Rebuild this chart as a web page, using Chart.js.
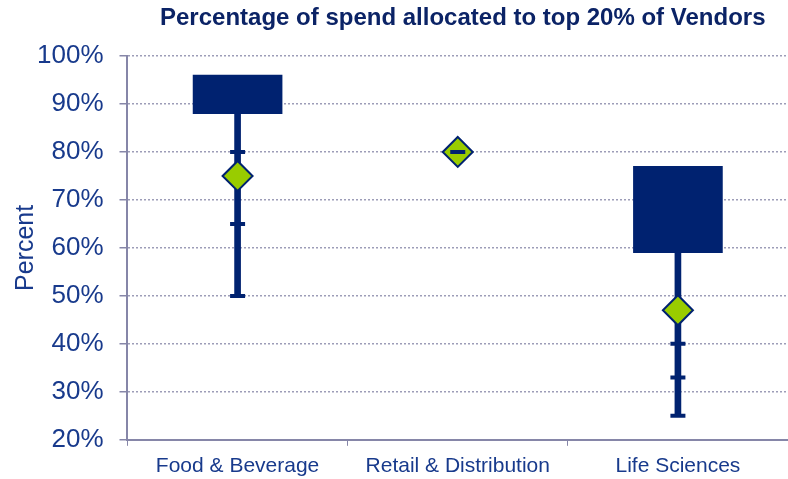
<!DOCTYPE html>
<html>
<head>
<meta charset="utf-8">
<script src="https://cdn.jsdelivr.net/npm/chart.js@4/dist/chart.umd.min.js"></script>
<style>
  html, body { margin: 0; background: #fff; }
</style>
</head>
<body>
<canvas id="chart" width="788" height="479"></canvas>
<script>
const categories = ['Food & Beverage', 'Retail & Distribution', 'Life Sciences']

// box = upper quartile range, whisker = lower range down to the minimum
const boxRanges = [[88, 96], null, [59, 77]]
const whiskerRanges = [[50, 88], null, [25, 59]]
const averages = [75, 80, 47]

// short horizontal marks along each whisker
const foodMarks = [80, 65, 50]
const retailMarks = [80]
const lifeMarks = [40, 33, 25]

const navy = '#002270'
const textNavy = '#183a8c'
const green = '#99cc00'
const gridGrey = '#9d9db8'
const axisGrey = '#8686a8'
const font = '"Liberation Sans", Arial, sans-serif'

const markPoints = [
  ...foodMarks.map(y => ({ x: categories[0], y })),
  ...retailMarks.map(y => ({ x: categories[1], y })),
  ...lifeMarks.map(y => ({ x: categories[2], y }))
]

const titlePlugin = {
  id: 'plotTitle',
  afterDraw(chart) {
    const { ctx, chartArea } = chart
    ctx.save()
    ctx.fillStyle = '#0b2366'
    ctx.font = 'bold 24px ' + font
    ctx.textAlign = 'center'
    ctx.textBaseline = 'middle'
    ctx.fillText('Percentage of spend allocated to top 20% of Vendors',
      (chartArea.left + chartArea.right) / 2 + 5, 18)
    ctx.restore()
  }
}

new Chart(document.getElementById('chart'), {
  data: {
    labels: categories,
    datasets: [
      {
        type: 'line',
        label: 'Marks',
        data: markPoints,
        showLine: false,
        pointStyle: 'line',
        pointRadius: 7.5,
        pointBorderWidth: 4,
        pointBorderColor: navy,
        order: 0
      },
      {
        type: 'line',
        label: 'Average',
        data: averages,
        showLine: false,
        pointStyle: 'rectRot',
        pointRadius: 15,
        pointBackgroundColor: green,
        pointBorderColor: navy,
        pointBorderWidth: 2,
        order: 1
      },
      {
        type: 'bar',
        label: 'Whisker',
        data: whiskerRanges,
        backgroundColor: navy,
        barThickness: 6,
        grouped: false,
        order: 2
      },
      {
        type: 'bar',
        label: 'Box',
        data: boxRanges,
        backgroundColor: navy,
        barThickness: 89,
        grouped: false,
        order: 3
      }
    ]
  },
  options: {
    responsive: false,
    animation: false,
    devicePixelRatio: 1,
    layout: {
      autoPadding: false,
      padding: { top: 56, right: 0, left: 11, bottom: -8 }
    },
    plugins: {
      legend: { display: false },
      tooltip: { enabled: false }
    },
    scales: {
      x: {
        type: 'category',
        offset: true,
        grid: {
          offset: true,
          drawOnChartArea: false,
          color: axisGrey,
          tickLength: 6
        },
        border: { color: axisGrey, width: 2 },
        ticks: {
          color: textNavy,
          padding: 8,
          font: { family: font, size: 21 }
        }
      },
      y: {
        min: 20,
        max: 100,
        ticks: {
          stepSize: 10,
          padding: 16,
          color: textNavy,
          font: { family: font, size: 26 },
          callback: v => v + '%'
        },
        grid: {
          color: gridGrey,
          lineWidth: 1.5,
          tickLength: 8,
          tickColor: axisGrey
        },
        border: { color: axisGrey, width: 2, dash: [2, 2] },
        title: {
          display: true,
          text: 'Percent',
          color: textNavy,
          padding: { top: 0, bottom: -20 },
          font: { family: font, size: 25 }
        }
      }
    }
  },
  plugins: [titlePlugin]
})
</script>
</body>
</html>
